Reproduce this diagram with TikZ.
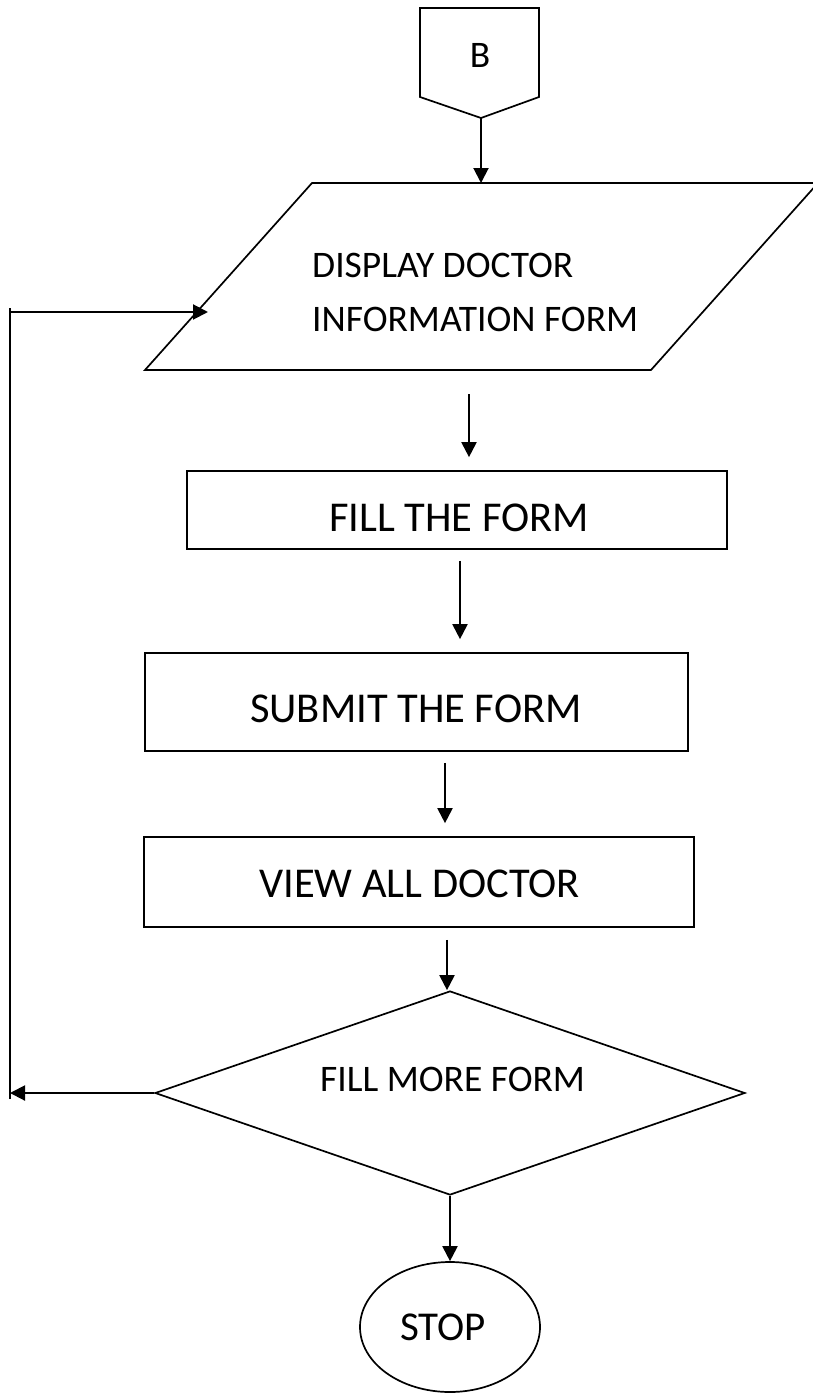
\documentclass[tikz,border=0pt]{standalone}
\usepackage{fontspec}
\setmainfont{Carlito}
\usetikzlibrary{arrows.meta,shapes.geometric}
\begin{document}
\begin{tikzpicture}[x=1pt,y=-1pt,
  outl/.style={draw=black,line width=1.7pt},
  boxnode/.style={outl,rectangle,inner sep=0pt},
  arr/.style={draw=black,line width=2pt,-{Triangle[length=15pt,width=15pt]}},
  ln/.style={draw=black,line width=2pt},
  txt/.style={inner sep=0pt,anchor=base west},
  big/.style={font=\fontsize{42.5}{50}\selectfont},
  mid/.style={font=\fontsize{37.5}{44}\selectfont}]

\useasboundingbox[fill=white] (0,0) rectangle (812,1394);

% off-page connector B
\draw[outl] (420,8) -- (539,8) -- (539,97) -- (481,118) -- (420,97) -- cycle;
\coordinate (Bp) at (481,118);
\node[inner sep=0pt,anchor=base,mid] (tb) at (480,68) {B};

% parallelogram
\draw[outl] (312,183) -- (818,183) -- (651,370) -- (145,370) -- cycle;
\coordinate (Pt) at (481,183);
\coordinate (Pb) at (469,370);
\coordinate (Pin) at (208,312);
\node[txt,mid] (t1) at (312,277) {DISPLAY DOCTOR};
\node[txt,mid] (t2) at (312,331) {INFORMATION FORM};

% process boxes
\node[boxnode,minimum width=540pt,minimum height=78pt] (fill) at (457,510) {};
\node[boxnode,minimum width=543pt,minimum height=98pt] (submit) at (416.5,702) {};
\node[boxnode,minimum width=550pt,minimum height=90pt] (view) at (419,882) {};
\node[txt,big] (t3) at (329,531) {FILL THE FORM};
\node[txt,big] (t4) at (250,722) {SUBMIT THE FORM};
\node[txt,big] (t5) at (259,897) {VIEW ALL DOCTOR};

% decision
\node[outl,diamond,minimum width=590pt,minimum height=204pt,inner sep=0pt] (dec) at (450,1093) {};
\node[txt,mid] (t6) at (320,1091) {FILL MORE FORM};

% terminator
\node[outl,ellipse,minimum width=180pt,minimum height=130pt,inner sep=0pt] (stop) at (450,1327) {};
\node[txt,font=\fontsize{41}{48}\selectfont] (t7) at (400,1340) {STOP};

% connectors
\draw[arr] (Bp) -- (Pt);
\draw[arr,shorten <=24pt,shorten >=13pt] (Pb) -- (Pb |- fill.north);
\draw[arr,shorten <=11pt,shorten >=13pt] ([xshift=3pt]fill.south) -- ([xshift=3pt]fill.south |- submit.north);
\draw[arr,shorten <=11pt,shorten >=13pt] ([xshift=28.5pt]submit.south) -- ([xshift=28.5pt]submit.south |- view.north);
\draw[arr,shorten <=12pt] ([xshift=28pt]view.south) -- ([xshift=28pt]view.south |- dec.north);
\draw[arr] (dec.south) -- (stop.north);

% loop back
\coordinate (Lt) at (10,312);
\coordinate (Lb) at (10,1093);
\draw[arr] (dec.west) -- (Lb);
\draw[ln] ([yshift=-6pt]Lb) -- ([yshift=4pt]Lt);
\draw[arr] (Lt) -- (Pin);
\end{tikzpicture}
\end{document}
